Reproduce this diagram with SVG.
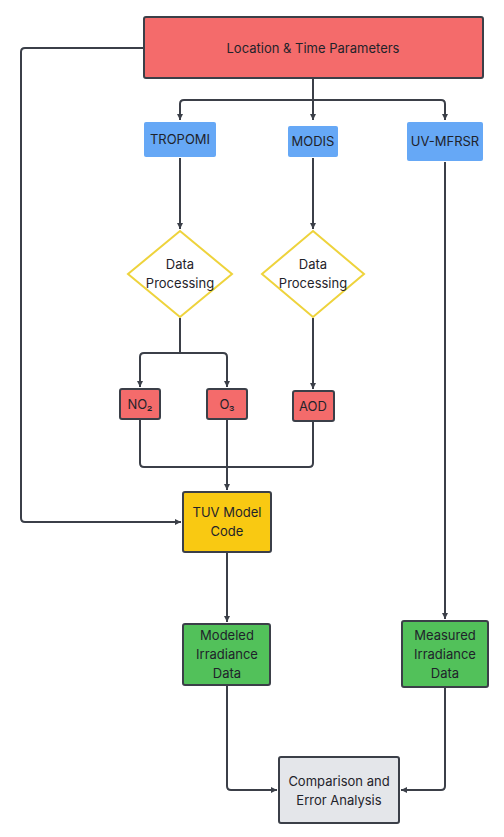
<svg xmlns="http://www.w3.org/2000/svg" width="504" height="837" viewBox="0 0 504 837">
<style>
.box{stroke:#3b3f48;stroke-width:2}
.red{fill:#f46b6b}
.yel{fill:#f9c912}
.grn{fill:#52c15a}
.gry{fill:#e4e6ea}
.dia{fill:#ffffff;stroke:#eed33c;stroke-width:2}
.bnode{fill:#66a8f6}
.t{font-family:Inter,"Noto Sans","Liberation Sans",sans-serif;font-size:13px;fill:#1f232a;text-anchor:middle}
.c{fill:none;stroke:#3b3f48;stroke-width:2;stroke-linejoin:round}
</style>
<defs>
<marker id="a" markerWidth="8" markerHeight="8" refX="6" refY="4" orient="auto" markerUnits="userSpaceOnUse">
<path d="M0,1 L6,4 L0,7 Z" fill="#3b3f48"/>
</marker>
</defs>
<rect width="504" height="837" fill="#ffffff"/>
<g id="connectors">
<path class="c" d="M144,48 H25 Q21,48 21,52 V518 Q21,522 25,522 H181" marker-end="url(#a)"/>
<path class="c" d="M313,79 V120" marker-end="url(#a)"/>
<path class="c" d="M313,100 H184 Q180,100 180,104 V120" marker-end="url(#a)"/>
<path class="c" d="M313,100 H441 Q445,100 445,104 V120" marker-end="url(#a)"/>
<path class="c" d="M180,158 V229" marker-end="url(#a)"/>
<path class="c" d="M313,158 V229" marker-end="url(#a)"/>
<path class="c" d="M180,318 V353 H144 Q140,353 140,357 V387" marker-end="url(#a)"/>
<path class="c" d="M180,353 H223 Q227,353 227,357 V387" marker-end="url(#a)"/>
<path class="c" d="M313,318 V389" marker-end="url(#a)"/>
<path class="c" d="M140,420 V463 Q140,467 144,467 H309 Q313,467 313,463 V422"/>
<path class="c" d="M227,420 V490" marker-end="url(#a)"/>
<path class="c" d="M227,553 V622" marker-end="url(#a)"/>
<path class="c" d="M445,162 V619" marker-end="url(#a)"/>
<path class="c" d="M227,686 V786 Q227,790 231,790 H277" marker-end="url(#a)"/>
<path class="c" d="M445,688 V786 Q445,790 441,790 H401" marker-end="url(#a)"/>
</g>
<g id="location">
<rect class="box red" x="144" y="17" width="339" height="61" rx="2"/>
<text class="t" x="313" y="52.5">Location &amp; Time Parameters</text>
</g>
<g id="tropomi">
<rect class="bnode" x="144" y="122" width="72" height="35" rx="2"/>
<text class="t" x="180" y="144">TROPOMI</text>
</g>
<g id="modis">
<rect class="bnode" x="288" y="126" width="50" height="31" rx="2"/>
<text class="t" x="313" y="146">MODIS</text>
</g>
<g id="uvmfrsr">
<rect class="bnode" x="407" y="122" width="76" height="39" rx="2"/>
<text class="t" x="445" y="146">UV-MFRSR</text>
</g>
<g id="dp1">
<polygon class="dia" points="180,231 232,274 180,317 128,274"/>
<text class="t" x="180" y="269">Data</text>
<text class="t" x="180" y="288">Processing</text>
</g>
<g id="dp2">
<polygon class="dia" points="313,231 364,274 313,317 262,274"/>
<text class="t" x="313" y="269">Data</text>
<text class="t" x="313" y="288">Processing</text>
</g>
<g id="no2">
<rect class="box red" x="120" y="389" width="40" height="30" rx="2"/>
<text class="t" x="140" y="409">NO₂</text>
</g>
<g id="o3">
<rect class="box red" x="207" y="389" width="40" height="30" rx="2"/>
<text class="t" x="227" y="409">O₃</text>
</g>
<g id="aod">
<rect class="box red" x="293" y="391" width="41" height="30" rx="2"/>
<text class="t" x="313" y="411">AOD</text>
</g>
<g id="tuv">
<rect class="box yel" x="183" y="492" width="88" height="60" rx="2"/>
<text class="t" x="227" y="517">TUV Model</text>
<text class="t" x="227" y="536">Code</text>
</g>
<g id="modeled">
<rect class="box grn" x="183" y="624" width="87" height="61" rx="2"/>
<text class="t" x="227" y="640">Modeled</text>
<text class="t" x="227" y="659">Irradiance</text>
<text class="t" x="227" y="678">Data</text>
</g>
<g id="measured">
<rect class="box grn" x="402" y="621" width="86" height="66" rx="2"/>
<text class="t" x="445" y="640">Measured</text>
<text class="t" x="445" y="659">Irradiance</text>
<text class="t" x="445" y="678">Data</text>
</g>
<g id="comparison">
<rect class="box gry" x="279" y="757" width="120" height="66" rx="2"/>
<text class="t" x="339" y="786">Comparison and</text>
<text class="t" x="339" y="805">Error Analysis</text>
</g>
</svg>
